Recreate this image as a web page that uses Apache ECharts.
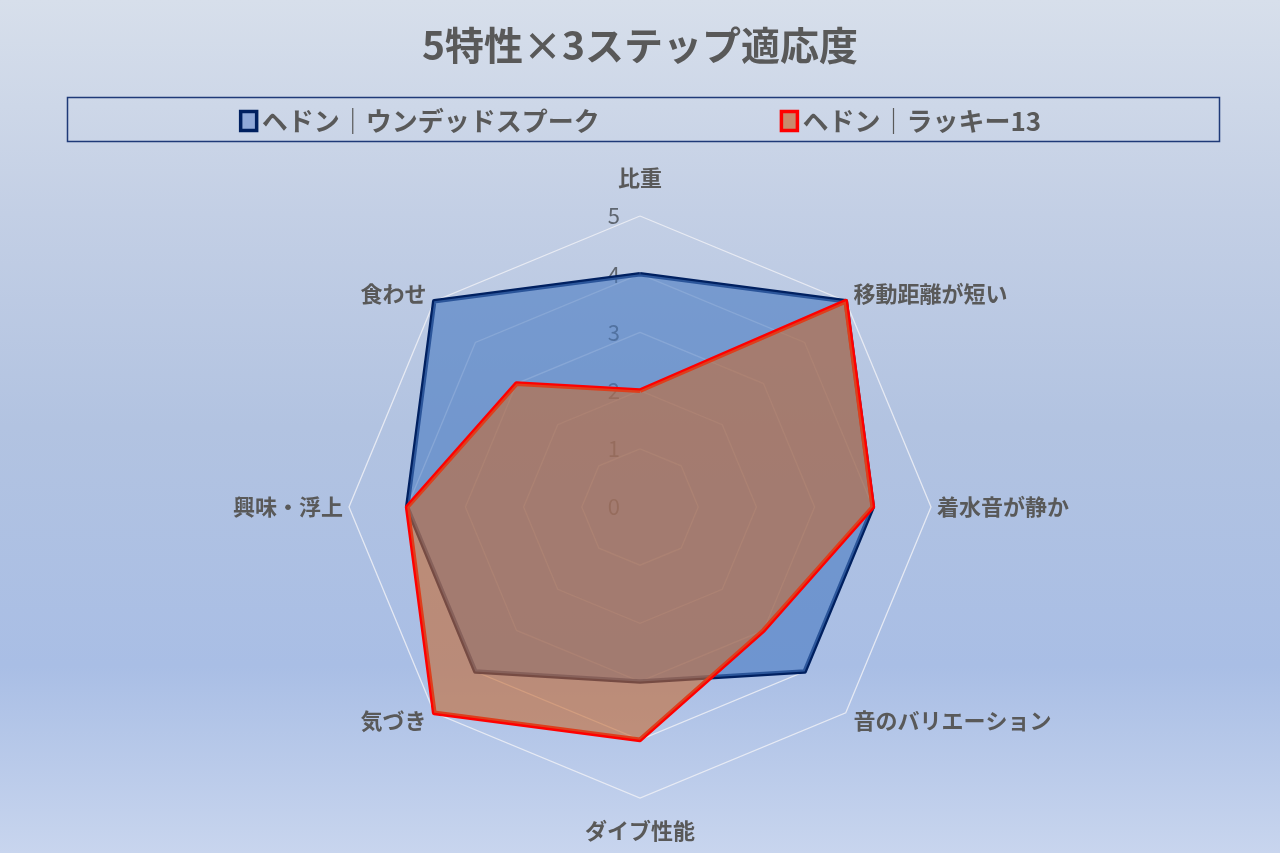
<!DOCTYPE html>
<html>
<head>
<meta charset="utf-8">
<script src="https://cdn.jsdelivr.net/npm/echarts@6/dist/echarts.min.js"></script>
<style>
html,body{margin:0;padding:0;}
#chart{width:1280px;height:853px;background:linear-gradient(to bottom,#D7DFEB 0%,#C3CFE5 25%,#B2C3E1 50%,#A9BEE5 78%,#C8D5EE 100%);}
</style>
</head>
<body>
<div id="chart"></div>
<script>
// Indicators listed clockwise from the top
const categories = ['比重', '移動距離が短い', '着水音が静か', '音のバリエーション', 'ダイブ性能', '気づき', '興味・浮上', '食わせ'];
const seriesNames = ['ヘドン｜ウンデッドスプーク', 'ヘドン｜ラッキー13'];
const undeadSpook = [4, 5, 4, 4, 3, 4, 4, 5];
const lucky13 = [2, 5, 4, 3, 4, 5, 4, 3];
const tickValues = [0, 1, 2, 3, 4, 5];

const FONT = "'Noto Sans CJK JP', 'Noto Sans', sans-serif";
// ECharts radar goes counter-clockwise; reorder to draw clockwise
const cw = arr => [arr[0]].concat(arr.slice(1).reverse());

// name gaps per direction (clockwise from top): top, diag, side, diag, bottom, diag, side, diag
const nameGaps = [27, 11, 6, 11, 22, 11, 6, 11];

const tMin = tickValues[0], tMax = tickValues[tickValues.length - 1];
const cwNames = cw(categories);
const cwGaps = cw(nameGaps);
const indicator = cwNames.map((name, i) => {
  const o = { name: name, min: tMin, max: tMax, nameGap: cwGaps[i] };
  if (i !== 0) o.axisLabel = { show: false };
  return o;
});

const chart = echarts.init(document.getElementById('chart'), null, { renderer: 'canvas' });
chart.setOption({
  backgroundColor: 'transparent',
  title: {
    text: '5特性×3ステップ適応度',
    left: 'center',
    top: 21,
    textStyle: { fontFamily: FONT, fontSize: 39, fontWeight: 'bold', color: '#595959' }
  },
  graphic: [{
    type: 'rect',
    left: 65, top: 95,
    shape: { width: 1152, height: 44 },
    style: { fill: 'none', stroke: '#1F3A78', lineWidth: 1.5 },
    silent: true
  }],
  legend: {
    top: 103,
    left: 'center',
    itemGap: 180,
    itemWidth: 16,
    itemHeight: 19,
    icon: 'rect',
    textStyle: { fontFamily: FONT, fontSize: 26, fontWeight: 'bold', color: '#595959' },
    data: [
      { name: seriesNames[0], itemStyle: { color: '#8FA8D8', borderColor: '#002060', borderWidth: 3.5 } },
      { name: seriesNames[1], itemStyle: { color: '#C98A6C', borderColor: '#FF0000', borderWidth: 3.5 } }
    ]
  },
  radar: {
    center: [640, 507],
    radius: 291,
    startAngle: 90,
    splitNumber: tickValues.length - 1,
    shape: 'polygon',
    indicator: indicator,
    axisName: { fontFamily: FONT, fontSize: 22, fontWeight: 'bold', color: '#595959' },
    axisLine: { show: false },
    axisTick: { show: false },
    axisLabel: { show: true, fontFamily: FONT, fontSize: 22, fontWeight: 'normal', color: '#5f6670', margin: 20 },
    splitLine: { lineStyle: { color: 'rgba(238,240,246,0.85)', width: 1.3 } },
    splitArea: { show: false }
  },
  series: [
    {
      name: seriesNames[0],
      type: 'radar',
      symbol: 'none',
      z: 2,
      lineStyle: { color: '#002060', width: 4.5 },
      itemStyle: { color: '#8FA8D8', borderColor: '#002060' },
      areaStyle: { color: 'rgba(72,121,194,0.6)', opacity: 1 },
      data: [{ value: cw(undeadSpook), name: seriesNames[0] }]
    },
    {
      name: seriesNames[1],
      type: 'radar',
      symbol: 'none',
      z: 3,
      lineStyle: { color: '#FF0000', width: 4.8 },
      itemStyle: { color: '#C98A6C', borderColor: '#FF0000' },
      areaStyle: { color: 'rgba(197,105,49,0.6)', opacity: 1 },
      data: [{ value: cw(lucky13), name: seriesNames[1] }]
    }
  ]
});
</script>
</body>
</html>
